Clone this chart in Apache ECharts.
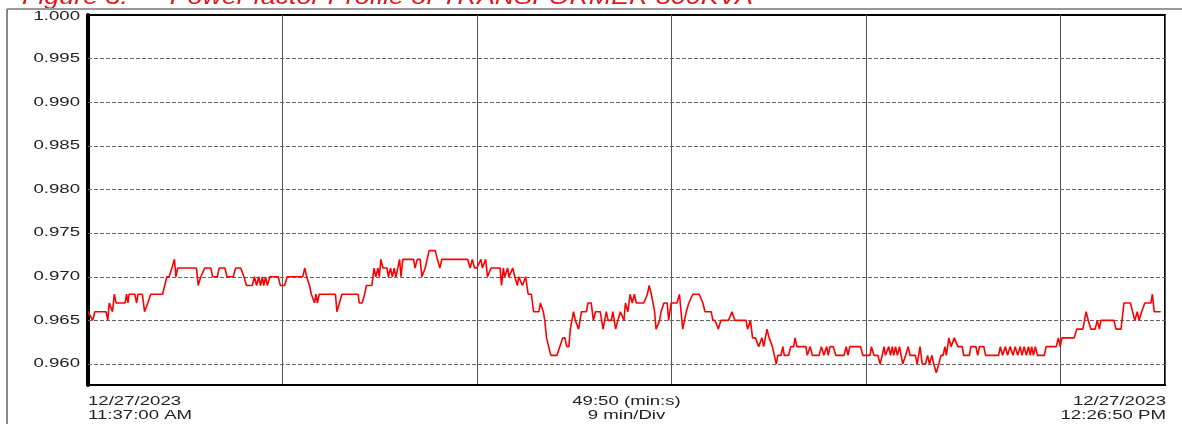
<!DOCTYPE html>
<html>
<head>
<meta charset="utf-8">
<script src="https://cdn.jsdelivr.net/npm/echarts@6/dist/echarts.min.js"></script>
<style>
  html, body { margin: 0; padding: 0; background: #fff; }
  #main { width: 1182px; height: 424px; }
</style>
</head>
<body>
<div id="main"></div>
<script>
// elapsed seconds since 11:37:00 AM
var elapsedSec = [
  0, 13, 19, 50, 55, 59, 64, 68, 73, 78, 103, 107, 111, 114, 130, 135, 139, 151, 157, 166,
  170, 174, 207, 213, 219, 225, 233, 240, 244, 249, 301, 306, 313, 318, 324, 341, 346, 359, 364, 380,
  386, 403, 410, 424, 433, 440, 456, 462, 468, 474, 479, 484, 488, 493, 498, 505, 528, 534, 546, 553,
  596, 602, 607, 615, 620, 629, 633, 637, 642, 687, 691, 698, 705, 750, 753, 761, 768, 773, 788, 794,
  799, 805, 809, 813, 819, 830, 834, 840, 845, 850, 855, 859, 865, 869, 874, 904, 908, 914, 922, 927,
  936, 947, 964, 970, 977, 982, 1054, 1061, 1067, 1073, 1079, 1091, 1095, 1104, 1109, 1113, 1119, 1144, 1148, 1153,
  1157, 1165, 1169, 1179, 1185, 1192, 1196, 1206, 1209, 1215, 1222, 1231, 1237, 1252, 1256, 1264, 1268, 1273, 1276, 1285,
  1302, 1310, 1314, 1318, 1324, 1329, 1335, 1339, 1348, 1353, 1362, 1370, 1384, 1388, 1397, 1403, 1409, 1422, 1430, 1439,
  1444, 1453, 1457, 1465, 1471, 1478, 1488, 1492, 1499, 1505, 1511, 1517, 1522, 1543, 1553, 1558, 1564, 1573, 1577, 1580,
  1587, 1591, 1599, 1608, 1612, 1619, 1635, 1642, 1651, 1661, 1668, 1673, 1679, 1697, 1707, 1713, 1730, 1735, 1741, 1750,
  1757, 1778, 1788, 1796, 1827, 1831, 1839, 1845, 1853, 1862, 1866, 1871, 1876, 1885, 1891, 1900, 1905, 1911, 1915, 1924,
  1929, 1933, 1945, 1951, 1959, 1963, 1968, 1993, 1997, 2005, 2011, 2030, 2036, 2043, 2051, 2055, 2060, 2069, 2076, 2099,
  2105, 2110, 2115, 2145, 2151, 2171, 2175, 2182, 2193, 2199, 2205, 2210, 2214, 2223, 2228, 2233, 2237, 2242, 2247, 2253,
  2262, 2270, 2277, 2282, 2297, 2302, 2310, 2316, 2325, 2331, 2336, 2343, 2348, 2355, 2362, 2368, 2374, 2379, 2383, 2390,
  2396, 2405, 2410, 2415, 2427, 2431, 2447, 2451, 2465, 2470, 2475, 2487, 2492, 2528, 2533, 2539, 2547, 2553, 2560, 2568,
  2574, 2581, 2588, 2593, 2599, 2605, 2611, 2616, 2620, 2625, 2630, 2636, 2655, 2660, 2688, 2694, 2699, 2704, 2738, 2745,
  2762, 2771, 2777, 2784, 2796, 2802, 2808, 2812, 2848, 2854, 2868, 2876, 2894, 2900, 2906, 2913, 2918, 2925, 2930, 2934,
  2951, 2955, 2960, 2978
];
var powerFactor = [
  0.966, 0.965, 0.966, 0.966, 0.965, 0.967, 0.967, 0.966, 0.968, 0.967, 0.967, 0.968, 0.967, 0.968, 0.968, 0.967, 0.968, 0.968, 0.966, 0.967,
  0.967, 0.968, 0.968, 0.969, 0.970, 0.970, 0.971, 0.972, 0.970, 0.971, 0.971, 0.969, 0.970, 0.970, 0.971, 0.971, 0.970, 0.970, 0.971, 0.971,
  0.970, 0.970, 0.971, 0.971, 0.970, 0.969, 0.969, 0.970, 0.969, 0.970, 0.969, 0.970, 0.969, 0.970, 0.969, 0.970, 0.970, 0.969, 0.969, 0.970,
  0.970, 0.971, 0.970, 0.969, 0.968, 0.967, 0.968, 0.967, 0.968, 0.968, 0.966, 0.967, 0.968, 0.968, 0.967, 0.967, 0.968, 0.969, 0.969, 0.971,
  0.970, 0.971, 0.970, 0.972, 0.971, 0.971, 0.970, 0.971, 0.970, 0.971, 0.970, 0.970, 0.972, 0.970, 0.972, 0.972, 0.971, 0.972, 0.972, 0.970,
  0.971, 0.973, 0.973, 0.972, 0.971, 0.972, 0.972, 0.971, 0.972, 0.971, 0.971, 0.972, 0.971, 0.972, 0.970, 0.970, 0.971, 0.971, 0.969, 0.971,
  0.970, 0.971, 0.970, 0.971, 0.970, 0.969, 0.970, 0.969, 0.969, 0.970, 0.968, 0.968, 0.966, 0.966, 0.967, 0.966, 0.965, 0.963, 0.963, 0.961,
  0.961, 0.962, 0.962, 0.963, 0.963, 0.962, 0.962, 0.964, 0.966, 0.965, 0.964, 0.966, 0.966, 0.967, 0.967, 0.965, 0.966, 0.966, 0.964, 0.966,
  0.965, 0.965, 0.966, 0.964, 0.965, 0.966, 0.965, 0.967, 0.966, 0.968, 0.967, 0.968, 0.967, 0.967, 0.968, 0.969, 0.968, 0.966, 0.964, 0.964,
  0.965, 0.966, 0.967, 0.967, 0.965, 0.967, 0.967, 0.968, 0.964, 0.966, 0.967, 0.967, 0.968, 0.968, 0.967, 0.966, 0.966, 0.965, 0.965, 0.964,
  0.965, 0.965, 0.966, 0.965, 0.965, 0.964, 0.965, 0.963, 0.963, 0.962, 0.962, 0.963, 0.962, 0.964, 0.963, 0.962, 0.962, 0.960, 0.961, 0.961,
  0.962, 0.961, 0.961, 0.962, 0.962, 0.963, 0.962, 0.962, 0.961, 0.962, 0.961, 0.961, 0.962, 0.961, 0.962, 0.961, 0.962, 0.962, 0.961, 0.961,
  0.962, 0.961, 0.962, 0.962, 0.961, 0.961, 0.962, 0.961, 0.961, 0.960, 0.961, 0.962, 0.961, 0.962, 0.961, 0.962, 0.961, 0.962, 0.961, 0.962,
  0.960, 0.961, 0.962, 0.961, 0.961, 0.960, 0.962, 0.960, 0.960, 0.961, 0.960, 0.961, 0.960, 0.959, 0.960, 0.961, 0.961, 0.962, 0.961, 0.963,
  0.962, 0.963, 0.963, 0.962, 0.962, 0.961, 0.961, 0.962, 0.962, 0.961, 0.962, 0.962, 0.961, 0.961, 0.962, 0.961, 0.962, 0.961, 0.962, 0.961,
  0.962, 0.961, 0.962, 0.961, 0.962, 0.961, 0.962, 0.961, 0.962, 0.961, 0.962, 0.961, 0.961, 0.962, 0.962, 0.963, 0.962, 0.963, 0.963, 0.964,
  0.964, 0.966, 0.965, 0.964, 0.964, 0.965, 0.964, 0.965, 0.965, 0.964, 0.964, 0.967, 0.967, 0.966, 0.965, 0.966, 0.965, 0.966, 0.966, 0.967,
  0.967, 0.968, 0.966, 0.966
];
var yTicks = [1.000, 0.995, 0.990, 0.985, 0.980, 0.975, 0.970, 0.965, 0.960];
var yMin = 0.9576, yMax = 1.0;
var spanSec = 2990;      // 49:50
var divSec = 540;        // 9 min/Div
var startLabel = ['12/27/2023', '11:37:00 AM'];
var spanLabel = ['49:50 (min:s)', '9 min/Div'];
var endLabel = ['12/27/2023', '12:26:50 PM'];
var titleText = 'Figure 3. \u2014 Power factor Profile of TRANSFORMER 800KVA';

var seriesData = elapsedSec.map(function (t, i) { return [t, powerFactor[i]]; });

var chart = echarts.init(document.getElementById('main'));
var labelFont = '12px "Liberation Sans", Arial, sans-serif';
var stretch = 1.55;

chart.setOption({
  backgroundColor: '#fff',
  animation: false,
  grid: {
    left: 88, right: 17, top: 15, bottom: 39,
    show: true, borderColor: '#000', borderWidth: 2, backgroundColor: '#fff'
  },
  xAxis: {
    type: 'value', min: 0, max: spanSec, interval: divSec,
    axisLine: { show: true, lineStyle: { color: '#000', width: 2 } },
    axisTick: { show: false },
    axisLabel: { show: false },
    splitLine: { show: true, lineStyle: { color: '#555', width: 1 } }
  },
  yAxis: {
    type: 'value', min: yMin, max: yMax,
    axisLine: { show: true, lineStyle: { color: '#000', width: 4 } },
    axisTick: { show: false },
    axisLabel: { show: false },
    splitLine: { show: false }
  },
  series: [{
    type: 'line',
    data: seriesData,
    showSymbol: false,
    symbol: 'none',
    lineStyle: { color: '#ff0000', width: 1.6 },
    z: 5,
    markLine: {
      silent: true,
      symbol: 'none',
      precision: 4,
      label: { show: false },
      lineStyle: { color: '#666', width: 1, type: [4, 2] },
      data: yTicks.filter(function (v) { return v < yMax; }).map(function (v) { return { yAxis: v }; })
    }
  }]
});

// texts: tick labels placed through the axis scales, footer, and the cut-off title
var graphics = [];
yTicks.forEach(function (v) {
  var py = chart.convertToPixel({ yAxisIndex: 0 }, v);
  if (v === yMax) py += 2;
  graphics.push({
    type: 'text', x: 80, y: py, scaleX: stretch, silent: true,
    style: { text: v.toFixed(3), font: labelFont, fill: '#222', align: 'right', verticalAlign: 'middle' }
  });
});
var footY = 386;
var leftPx = chart.convertToPixel({ xAxisIndex: 0 }, 0);
var rightPx = chart.convertToPixel({ xAxisIndex: 0 }, spanSec);
var midPx = (leftPx + rightPx) / 2;
[[startLabel, leftPx, 'left'], [spanLabel, midPx, 'center'], [endLabel, rightPx + 1, 'right']].forEach(function (f) {
  graphics.push({
    type: 'text', x: f[1], y: footY + 9, scaleX: stretch, silent: true,
    style: { text: f[0].join('\n'), font: labelFont, lineHeight: 14, fill: '#222', align: f[2], verticalAlign: 'top' }
  });
});
graphics.push({
  type: 'text', x: 22, y: 9, scaleX: 1.22, silent: true,
  style: { text: titleText, font: 'italic 22px "Liberation Sans", Arial, sans-serif', fill: '#e4161c', align: 'left', verticalAlign: 'bottom' }
});
// outer gray frame
graphics.push({ type: 'line', silent: true, shape: { x1: 7, y1: 9, x2: 1182, y2: 9 }, style: { stroke: '#999', lineWidth: 2 } });
graphics.push({ type: 'line', silent: true, shape: { x1: 7, y1: 9, x2: 7, y2: 424 }, style: { stroke: '#888', lineWidth: 2 } });

chart.setOption({ graphic: graphics });
</script>
</body>
</html>
